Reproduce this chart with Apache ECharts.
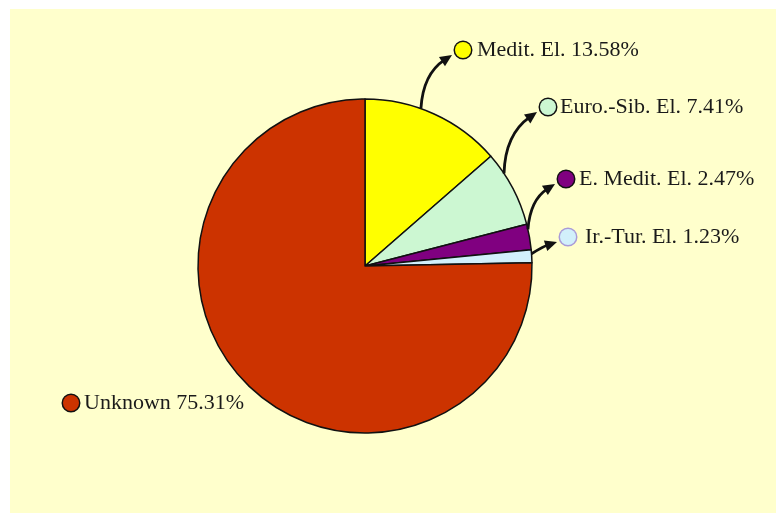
<!DOCTYPE html>
<html lang="en">
<head>
<meta charset="utf-8">
<title>Chorotype pie</title>
<script src="https://cdn.jsdelivr.net/npm/echarts@6/dist/echarts.min.js"></script>
<style>
    html, body { margin: 0; padding: 0; background: #fff; }
    #main { width: 776px; height: 513px; }
</style>
</head>
<body>
<div id="main"></div>
<script>
// data
var names = ['Medit. El.', 'Euro.-Sib. El.', 'E. Medit. El.', 'Ir.-Tur. El.', 'Unknown'];
var counts = [11, 6, 2, 1, 61];
var colors = ['#ffff00', '#ccf7d2', '#800080', '#d2f0fb', '#cc3300'];
var markerEdges = ['#111', '#111', '#111', '#a99bd8', '#111'];

// layout
var CX = 365, CY = 266, R = 167;
var labelPos = [[455, 50], [540, 107], [558, 179], [560, 237], [63, 403]];
var textGap = [6, 4, 5, 9, 5];
var bend = [0.25, 0.25, 0.25, 0.06];
var startFrac = [0.4, 0.28, 0.2, 0.3];   // where along the slice arc the arrow leaves

var chart = echarts.init(document.getElementById('main'));

var pieData = names.map(function (n, i) {
    return {
        name: n,
        value: counts[i],
        itemStyle: { color: colors[i] },
        label: {
            rich: {
                m: {
                    width: 16, height: 16, borderRadius: 8,
                    backgroundColor: colors[i],
                    borderColor: markerEdges[i], borderWidth: 1.5
                },
                t: {
                    fontFamily: 'Liberation Serif', fontSize: 22, color: '#1a1a1a',
                    padding: [0, 0, 0, textGap[i]], lineHeight: 24
                }
            }
        }
    };
});

// arrows from slice edge to label marker
var total = counts.reduce(function (a, b) { return a + b; }, 0);
var graphics = [{
    type: 'rect', silent: true, z: -10,
    shape: { x: 10, y: 9, width: 766, height: 504 },
    style: { fill: '#ffffcc' }
}];
var acc = 0;
for (var i = 0; i < counts.length; i++) {
    var a0 = acc / total * Math.PI * 2;
    acc += counts[i];
    var a1 = acc / total * Math.PI * 2;
    if (i >= bend.length) continue;
    var ang = a0 + (a1 - a0) * startFrac[i];
    var p0 = [CX + R * Math.sin(ang), CY - R * Math.cos(ang)];
    var p2 = [labelPos[i][0] - 3, labelPos[i][1] + 5];
    var dx = p2[0] - p0[0], dy = p2[1] - p0[1];
    var cp = [(p0[0] + p2[0]) / 2 + bend[i] * dy, (p0[1] + p2[1]) / 2 - bend[i] * dx];
    var ex = p2[0] - cp[0], ey = p2[1] - cp[1];
    var len = Math.sqrt(ex * ex + ey * ey);
    ex /= len; ey /= len;
    var base = [p2[0] - ex * 12, p2[1] - ey * 12];
    graphics.push({
        type: 'bezierCurve', silent: true, z: 100,
        shape: { x1: p0[0], y1: p0[1], x2: base[0] + ex * 3, y2: base[1] + ey * 3, cpx1: cp[0], cpy1: cp[1] },
        style: { stroke: '#111', lineWidth: 2.8, fill: null }
    });
    graphics.push({
        type: 'polygon', silent: true, z: 100,
        shape: { points: [p2, [base[0] - ey * 5.5, base[1] + ex * 5.5], [base[0] + ey * 5.5, base[1] - ex * 5.5]] },
        style: { fill: '#111' }
    });
}

var option = {
    backgroundColor: '#ffffff',
    animation: false,
    graphic: graphics,
    series: [{
        type: 'pie',
        center: [CX, CY],
        radius: R,
        startAngle: 90,
        clockwise: true,
        avoidLabelOverlap: false,
        itemStyle: { borderColor: '#111', borderWidth: 1.5 },
        emphasis: { scale: false },
        label: {
            show: true,
            position: 'outside',
            formatter: function (p) {
                return '{m|}{t|' + p.name + ' ' + p.percent.toFixed(2) + '%}';
            }
        },
        labelLine: { show: false },
        labelLayout: function (params) {
            var p = labelPos[params.dataIndex];
            return { x: p[0], y: p[1], align: 'left', verticalAlign: 'middle' };
        },
        data: pieData
    }]
};
chart.setOption(option);
</script>
</body>
</html>
